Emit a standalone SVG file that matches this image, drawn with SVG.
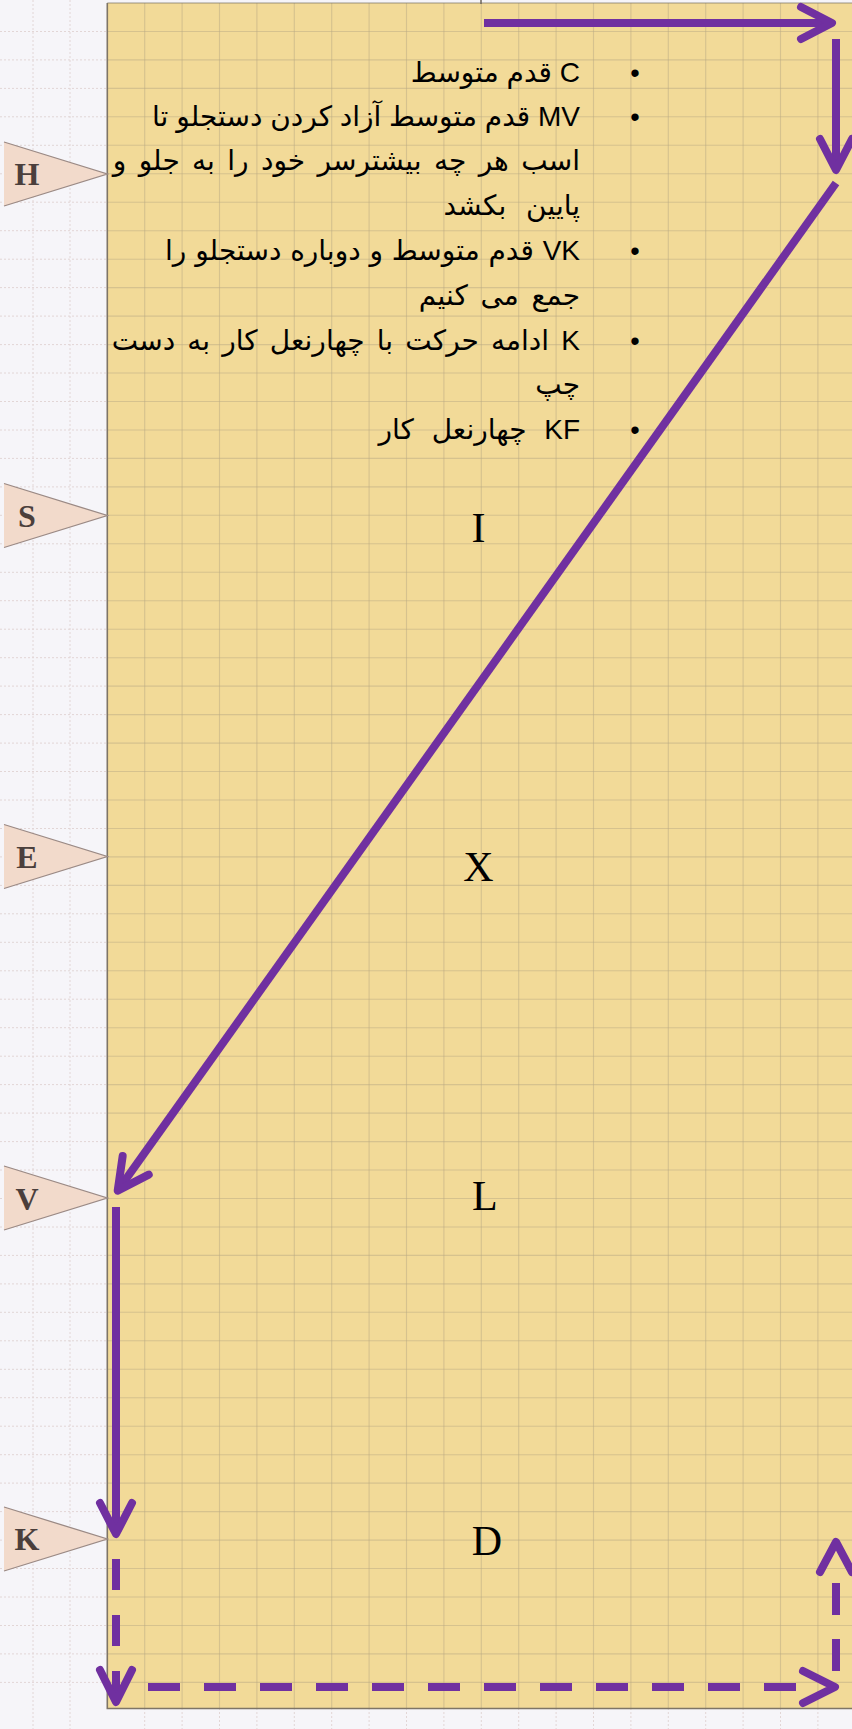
<svg xmlns="http://www.w3.org/2000/svg" width="852" height="1729" viewBox="0 0 852 1729">
<style>
.pg{fill:#f6f5f9}
.og{stroke:#e2d6d6;stroke-width:1;stroke-dasharray:2 2;fill:none}
.arena{fill:#f2da98}
.grid{stroke:#b9a983;stroke-width:1.1;opacity:0.5;fill:none}
.edge{stroke:#7e7566;stroke-width:1.6;fill:none}
.tri{fill:#f2dacb;stroke:#9b8a85;stroke-width:1.3}
.tl{font-family:"Liberation Serif","Times New Roman",serif;font-weight:bold;font-size:32px;fill:#4b3f3c;text-anchor:middle}
.big{font-family:"Liberation Serif","Times New Roman",serif;font-size:42px;fill:#000}
.fa{font-family:"Liberation Sans","DejaVu Sans",Arial,sans-serif;font-size:28px;fill:#000}
.bul{font-family:"Liberation Sans",Arial,sans-serif;font-size:27px;fill:#000;text-anchor:middle}
.ln{stroke:#7030a0;stroke-width:8;fill:none;stroke-linecap:butt}
.dash{stroke:#7030a0;stroke-width:8;fill:none;stroke-linecap:butt}
.chev{stroke:#7030a0;stroke-width:8;fill:none;stroke-linecap:round;stroke-linejoin:round}
</style>
<defs>
<marker id="ah" markerUnits="userSpaceOnUse" orient="auto" refX="0" refY="0" markerWidth="60" markerHeight="60" viewBox="-40 -30 50 60" overflow="visible">
<path d="M-31,-16 L0,0 L-31,16" class="chev"/>
</marker>
</defs>
<rect class="pg" x="0" y="0" width="852" height="1729"/>
<g id="outer-grid">
<path class="og" d="M33,0V1729M70,0V1729M144.7,1708V1729M182.1,1708V1729M219.5,1708V1729M256.9,1708V1729M294.3,1708V1729M331.7,1708V1729M369.1,1708V1729M406.5,1708V1729M443.9,1708V1729M481.3,1708V1729M518.7,1708V1729M556.1,1708V1729M593.5,1708V1729M630.9,1708V1729M668.3,1708V1729M705.7,1708V1729M743.1,1708V1729M780.5,1708V1729M817.9,1708V1729"/>
<path class="og" d="M0,31.5H107M0,59.9H107M0,88.4H107M0,116.8H107M0,145.3H107M0,173.8H107M0,202.2H107M0,230.7H107M0,259.2H107M0,287.6H107M0,316.1H107M0,344.6H107M0,373H107M0,401.5H107M0,430H107M0,458.4H107M0,486.9H107M0,515.3H107M0,543.8H107M0,572.3H107M0,600.7H107M0,629.2H107M0,657.7H107M0,686.1H107M0,714.6H107M0,743.1H107M0,771.5H107M0,800H107M0,828.5H107M0,856.9H107M0,885.4H107M0,913.8H107M0,942.3H107M0,970.8H107M0,999.2H107M0,1027.7H107M0,1056.2H107M0,1084.6H107M0,1113.1H107M0,1141.6H107M0,1170H107M0,1198.5H107M0,1227H107M0,1255.4H107M0,1283.9H107M0,1312.3H107M0,1340.8H107M0,1369.3H107M0,1397.7H107M0,1426.2H107M0,1454.7H107M0,1483.1H107M0,1511.6H107M0,1540.1H107M0,1568.5H107M0,1597H107M0,1625.5H107M0,1653.9H107M0,1682.4H107"/>
</g>
<g id="arena">
<rect class="arena" x="107.3" y="3" width="750" height="1705"/>
<path class="grid" d="M144.7,3V1708M182.1,3V1708M219.5,3V1708M256.9,3V1708M294.3,3V1708M331.7,3V1708M369.1,3V1708M406.5,3V1708M443.9,3V1708M481.3,3V1708M518.7,3V1708M556.1,3V1708M593.5,3V1708M630.9,3V1708M668.3,3V1708M705.7,3V1708M743.1,3V1708M780.5,3V1708M817.9,3V1708"/>
<path class="grid" d="M107,31.5H852M107,59.9H852M107,88.4H852M107,116.8H852M107,145.3H852M107,173.8H852M107,202.2H852M107,230.7H852M107,259.2H852M107,287.6H852M107,316.1H852M107,344.6H852M107,373H852M107,401.5H852M107,430H852M107,458.4H852M107,486.9H852M107,515.3H852M107,543.8H852M107,572.3H852M107,600.7H852M107,629.2H852M107,657.7H852M107,686.1H852M107,714.6H852M107,743.1H852M107,771.5H852M107,800H852M107,828.5H852M107,856.9H852M107,885.4H852M107,913.8H852M107,942.3H852M107,970.8H852M107,999.2H852M107,1027.7H852M107,1056.2H852M107,1084.6H852M107,1113.1H852M107,1141.6H852M107,1170H852M107,1198.5H852M107,1227H852M107,1255.4H852M107,1283.9H852M107,1312.3H852M107,1340.8H852M107,1369.3H852M107,1397.7H852M107,1426.2H852M107,1454.7H852M107,1483.1H852M107,1511.6H852M107,1540.1H852M107,1568.5H852M107,1597H852M107,1625.5H852M107,1653.9H852M107,1682.4H852"/>
<path class="edge" d="M107.3,3H852" stroke-opacity="0.5"/>
<path class="edge" d="M107.3,3V1708.5H852"/>
<path d="M481,0V4" stroke="#6d6458" stroke-width="1.5"/>
</g>
<g id="marker-H">
<path class="tri" d="M4,142 L107.3,174 L4,206"/>
<text class="tl" x="27" y="185">H</text>
</g>
<g id="marker-S">
<path class="tri" d="M4,483.5 L107.3,515.5 L4,547.5"/>
<text class="tl" x="27" y="526.5">S</text>
</g>
<g id="marker-E">
<path class="tri" d="M4,824.5 L107.3,856.5 L4,888.5"/>
<text class="tl" x="27" y="867.5">E</text>
</g>
<g id="marker-V">
<path class="tri" d="M4,1166 L107.3,1198 L4,1230"/>
<text class="tl" x="27" y="1210">V</text>
</g>
<g id="marker-K">
<path class="tri" d="M4,1507 L107.3,1539 L4,1571"/>
<text class="tl" x="27" y="1550">K</text>
</g>
<g id="letter-I"><text class="big" x="478.5" y="542" text-anchor="middle">I</text></g>
<g id="letter-X"><text class="big" x="478.5" y="881" text-anchor="middle">X</text></g>
<g id="letter-L"><text class="big" x="472" y="1210">L</text></g>
<g id="letter-D"><text class="big" x="487" y="1555" text-anchor="middle">D</text></g>
<g id="notes">
<text class="bul" x="635" y="82">•</text>
<text class="bul" x="635" y="126">•</text>
<text class="bul" x="635" y="260">•</text>
<text class="bul" x="635" y="350">•</text>
<text class="bul" x="635" y="439">•</text>
<text class="fa" x="580" y="82" direction="rtl">C  قدم متوسط</text>
<text class="fa" x="580" y="126" direction="rtl">MV قدم متوسط آزاد کردن دستجلو تا</text>
<text class="fa" x="580" y="170" direction="rtl" word-spacing="4.6">اسب هر چه بیشترسر خود را به جلو و</text>
<text class="fa" x="580" y="215" direction="rtl" word-spacing="12">پایین بکشد</text>
<text class="fa" x="580" y="260" direction="rtl" word-spacing="1">VK قدم متوسط و دوباره دستجلو را</text>
<text class="fa" x="580" y="305" direction="rtl" word-spacing="5">جمع می کنیم</text>
<text class="fa" x="580" y="350" direction="rtl" word-spacing="4.4">K ادامه حرکت با چهارنعل کار به دست</text>
<text class="fa" x="580" y="394" direction="rtl">چپ</text>
<text class="fa" x="580" y="439" direction="rtl" word-spacing="10">KF چهارنعل کار</text>
</g>
<g id="connectors">
<path class="ln" d="M484,23H832" marker-end="url(#ah)"/>
<path class="ln" d="M836,39V170" marker-end="url(#ah)"/>
<path class="ln" d="M836,183L117.7,1190.6" marker-end="url(#ah)"/>
<path class="ln" d="M116,1207V1534" marker-end="url(#ah)"/>
<path class="dash" d="M116,1559V1702" stroke-dasharray="31 25"/>
<path class="chev" d="M100,1670L116,1702L132,1670"/>
<path class="dash" d="M148,1687H797" stroke-dasharray="32 24"/>
<path class="chev" d="M803,1671L835,1687L803,1703"/>
<path class="dash" d="M836,1671V1583" stroke-dasharray="32 24"/>
<path class="chev" d="M820,1572L836,1542L852,1572"/>
</g>
</svg>
